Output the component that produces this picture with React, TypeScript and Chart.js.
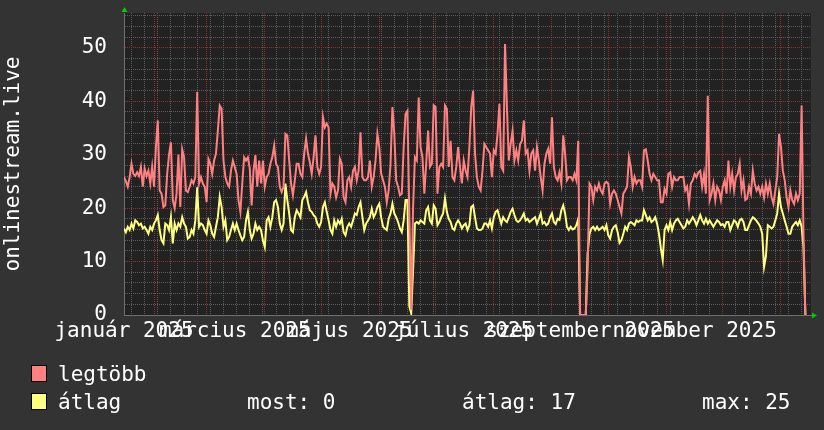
import React, { useEffect, useRef } from 'react';
import { Chart, registerables } from 'chart.js';

Chart.register(...registerables);

// Daily values starting 2025-01-16 (day 0)
const legtobb: number[] = [
  25.8, 25, 24, 25.8, 28.3, 26.4, 26, 26.7, 26, 27.7,
  24, 27.4, 26, 27, 24.6, 27.7, 24, 31.4, 36.4, 23.3,
  22.7, 20.2, 20.5, 26.4, 30, 32.3, 21.5, 20, 22.7, 30,
  20.2, 31, 29.5, 23.3, 23, 24, 25.2, 24.6, 25.8, 41.7,
  24.6, 25.8, 24.6, 24, 21.1, 29.2, 28.3, 26.4, 28.9, 30.2,
  34.5, 39.2, 38.6, 28.9, 25.8, 24.6, 24, 27, 28.9, 27.7,
  26.4, 21.5, 19.3, 24.6, 29.5, 28.9, 29.5, 27.4, 20.5, 27,
  29.9, 24, 28.9, 24.6, 28.9, 24, 25.8, 26.4, 28.3, 29.5,
  31.7, 28.3, 27.7, 24, 23, 24, 33.9, 33.6, 28.9, 24.6,
  22.4, 25.2, 28.3, 28.3, 26.4, 25.8, 30.2, 33, 30.2, 28.6,
  26.4, 29.5, 33.6, 27.7, 26.4, 27.7, 37, 35.1, 35.8, 35.1,
  22.7, 24.6, 24, 22, 23.3, 29.2, 28.3, 22, 21.1, 25.2,
  25.8, 24, 27, 27.7, 25.2, 27, 34.2, 25.8, 25.2, 25.2,
  25.8, 28.9, 24, 25.8, 28.9, 33.9, 31.4, 26.4, 25.2, 24,
  21.1, 23.3, 28.3, 38.9, 33.9, 25.2, 24, 22.4, 22.7, 31.4,
  37.6, 38.2, 19, 1, 20, 29.5, 28.9, 40.7, 31.4, 29.5,
  22.7, 28.3, 34.5, 27.7, 28.3, 39.2, 38.9, 22.7, 27.7, 28.3,
  27.7, 39.2, 38.6, 27.7, 32.6, 25.8, 25.2, 27.7, 31.4, 27.7,
  24.6, 28.9, 27, 25.8, 31.4, 38.9, 42, 30.2, 25.8, 24,
  23.3, 27, 32, 31.4, 30.8, 30.2, 25.8, 30.8, 30.2, 33.9,
  39.5, 27.7, 27, 50.7, 38.9, 28.9, 32, 34.5, 28.9, 30.8,
  28.9, 32, 32.6, 36.4, 30.2, 30.8, 27, 30.2, 30.8, 27,
  31.4, 28.9, 25.8, 23.3, 28.3, 30.2, 31.1, 28.3, 37, 27.7,
  25.8, 25.2, 26.7, 24.6, 33.6, 30.2, 25.2, 25.8, 25.8, 25.2,
  26.4, 25.2, 32.6, 0, 0, 0, 0, 8.7, 24.6, 24,
  21.5, 24, 23.3, 24.6, 23.3, 22.7, 24.6, 24.9, 24.6, 20.8,
  22.7, 23.3, 22.7, 21.5, 20.2, 19, 22.7, 23.3, 24, 29.5,
  27.7, 24, 25.8, 24.6, 25.2, 25.2, 24, 30.8, 31, 28.9,
  26.4, 25.2, 26.4, 25.8, 25.2, 25.2, 21.1, 21.1, 23.6, 22.7,
  26.4, 26.7, 24, 25.8, 25.2, 25.2, 25.8, 25.8, 25.8, 23.3,
  24, 20.8, 24.6, 25.2, 26.4, 25.8, 26.7, 27, 24, 26.4,
  22.7, 41, 21.5, 22.7, 24.6, 21.5, 24, 23.3, 21.5, 24,
  25.2, 22.7, 28.9, 24, 26.4, 23.3, 25.8, 26.4, 28.3, 23.3,
  25.2, 21.5, 21.8, 24, 22.7, 27, 24.6, 23.3, 24, 22.7,
  24, 22, 24.6, 22.7, 24.6, 22, 20.8, 23.3, 25.8, 33.9,
  31.4, 27, 25.2, 22, 20.2, 23.3, 21.5, 20.8, 22.7, 21.5,
  22.7, 39.2, 15, 0,
];

const atlag: number[] = [
  16.2, 15.5, 16.5, 15.9, 17.1, 16.2, 17.7, 17.4, 16.8, 17.1,
  16.2, 16.5, 15.9, 15.2, 16.5, 15.9, 17.1, 17.7, 18.7, 15.9,
  14, 13.4, 17.1, 16.8, 15.9, 18.3, 13.4, 17.1, 15.9, 17.1,
  16.5, 18.3, 17.1, 16.5, 14.3, 14.6, 15.9, 15.2, 17.7, 23.9,
  16.5, 17.1, 16.8, 15.9, 15.2, 17.7, 16.8, 15.2, 14.6, 16.5,
  18.3, 22.1, 20.2, 16.5, 17.7, 14, 14.6, 15.9, 17.1, 15.9,
  17.1, 15.9, 14.9, 14, 14.6, 17.7, 19.3, 15.9, 14.3, 15.2,
  17.1, 15.9, 16.5, 15.9, 14, 12.7, 17.7, 18.3, 16.5, 18.3,
  21.1, 21.5, 20.2, 17.1, 15.9, 17.1, 24.6, 21.5, 19, 15.9,
  15.5, 18.3, 19.6, 19, 18.3, 21.5, 22.1, 23, 21.1, 19.6,
  19.3, 18.7, 18.3, 17.1, 16.5, 17.4, 20.2, 21.1, 19.3, 17.7,
  15.9, 15.2, 17.7, 16.5, 17.7, 17.1, 18, 15.5, 14.9, 16.5,
  17.1, 16.5, 17.7, 19, 18.7, 20.2, 21.1, 18.3, 15.9, 17.1,
  17.7, 18.3, 19.9, 18.3, 19, 20.2, 20.8, 18.3, 16.5, 16.2,
  15.9, 18, 19, 20.8, 19, 18.3, 17.4, 16.2, 15.5, 17.7,
  21.5, 21.5, 1.6, 0.3, 8.4, 17.1, 17.4, 17.1, 17.7, 17.4,
  17.1, 19.6, 20.2, 17.7, 17.1, 20.5, 19.9, 16.8, 17.4, 18.3,
  19, 21.8, 19.3, 18, 17.4, 16.2, 15.9, 17.1, 17.7, 17.1,
  16.2, 16.8, 17.1, 15.9, 16.8, 20.2, 20.5, 18.3, 16.2, 15.9,
  15.9, 16.2, 17.1, 17.1, 16.5, 17.7, 16.2, 18.3, 19.3, 19.6,
  18.3, 17.1, 18.3, 17.7, 17.4, 18.3, 19.3, 19.9, 18.7, 17.7,
  17.4, 17.7, 18.3, 19, 17.7, 18, 17.4, 17.7, 18, 18.3,
  17.1, 18, 19, 17.1, 17.4, 16.8, 17.1, 18.3, 19, 17.4,
  17, 18, 17.8, 19.6, 20.5, 19, 16.5, 15.9, 16.5, 16,
  16.2, 16.8, 18, 0, 0, 0, 0, 11.5, 15.2, 16.2,
  16.5, 15.9, 16.5, 15.9, 16.2, 16.5, 15.9, 16.8, 14.9, 14.3,
  15.9, 16.5, 16.8, 15.5, 13.5, 14, 15.2, 16.5, 15.9, 17.1,
  17.4, 17.1, 16.8, 17.7, 17.4, 17.7, 17.7, 19.6, 18.7, 17.7,
  18.3, 17.4, 17.7, 18.3, 17.1, 15.2, 12.5, 10.3, 15.9, 16.8,
  15.9, 17.4, 15.9, 17.1, 17.7, 18, 17.4, 16.8, 16.2, 16.5,
  17.7, 17.1, 17.7, 18.3, 17.7, 16.8, 17.7, 18.7, 17.7, 17.1,
  18, 17.1, 17.7, 17.1, 16.5, 17.1, 17.7, 17.4, 16.8, 17,
  16.5, 17.4, 17.4, 15.9, 16.8, 17.7, 17.4, 16.5, 17.7, 18,
  17.4, 15.9, 15.9, 16.8, 17.7, 18.3, 18, 17.6, 17.1, 16.5,
  15.2, 9, 11, 16.8, 16.5, 16.2, 16.5, 17.7, 19, 22.7,
  20.2, 19, 17.7, 16.5, 15.2, 15.2, 16.5, 17, 17.4, 16.8,
  17.7, 16.5, 12.7, 0,
];

const monthLabels = ['január 2025', 'március 2025', 'május 2025', 'július 2025', 'szeptember 2025', 'november 2025'];
const labelMonths: [number, number][] = [[2025, 0], [2025, 2], [2025, 4], [2025, 6], [2025, 8], [2025, 10]];
const legendStats = { most: '0', atlag: '17', max: '25' };

const START = Date.UTC(2025, 0, 16);
const DAY = 86400000;
const X_MAX = 366;
const Y_MAX = 56.5;

const dayOf = (y: number, m: number, d: number) => (Date.UTC(y, m, d) - START) / DAY;

const FONT = "'DejaVu Sans Mono', monospace";
const RED = '#ff8080';
const YEL = '#ffff80';
const GRID_MINOR = '#5c5c5c';
const GRID_MAJOR = '#8c3030';

export default function App() {
  const ref = useRef<HTMLCanvasElement | null>(null);

  useEffect(() => {
    document.body.style.margin = '0';
    document.body.style.background = '#333333';
    const canvas = ref.current;
    if (!canvas) return;

    const monthStarts = new Set<number>();
    for (let i = 1; i <= 12; i++) {
      const dt = new Date(Date.UTC(2025, i, 1));
      const v = dayOf(dt.getUTCFullYear(), dt.getUTCMonth(), 1);
      if (v >= 0 && v <= X_MAX) monthStarts.add(v);
    }
    const mondays = new Set<number>();
    for (let v = 0; v <= X_MAX; v++) {
      const wd = new Date(START + v * DAY).getUTCDay();
      if (wd === 1 && !monthStarts.has(v)) mondays.add(v);
    }
    const labelMap = new Map<number, string>();
    labelMonths.forEach(([y, m], i) => labelMap.set(dayOf(y, m, 1) + 15, monthLabels[i]));
    const xTickValues = Array.from(new Set<number>([...monthStarts, ...mondays, ...labelMap.keys()])).sort((a, b) => a - b);
    const yTickValues: number[] = [];
    for (let v = 0; v <= Y_MAX; v += 2) yTickValues.push(v);

    const redData = legtobb.map((v, i) => ({ x: i, y: v }));
    const yelData = atlag.map((v, i) => ({ x: i, y: v }));

    const bgPlugin = {
      id: 'bgPlugin',
      beforeDraw(chart: any) {
        const { ctx, chartArea } = chart;
        ctx.save();
        ctx.fillStyle = '#333333';
        ctx.fillRect(0, 0, chart.width, chart.height);
        ctx.fillStyle = '#222222';
        ctx.fillRect(chartArea.left, chartArea.top, chartArea.right - chartArea.left, chartArea.bottom - chartArea.top);
        ctx.restore();
      },
      afterDraw(chart: any) {
        const { ctx, chartArea } = chart;
        ctx.save();
        ctx.fillStyle = '#00cc00';
        const l = chartArea.left + 0.5;
        const t = chartArea.top;
        ctx.beginPath();
        ctx.moveTo(l - 3, t - 1);
        ctx.lineTo(l + 3, t - 1);
        ctx.lineTo(l, t - 6);
        ctx.closePath();
        ctx.fill();
        const r = chartArea.right;
        const b = chartArea.bottom + 0.5;
        ctx.beginPath();
        ctx.moveTo(r + 1, b - 3);
        ctx.lineTo(r + 1, b + 3);
        ctx.lineTo(r + 6, b);
        ctx.closePath();
        ctx.fill();
        ctx.restore();
      },
    };

    const chart = new Chart(canvas, {
      type: 'line',
      data: {
        datasets: [
          {
            label: 'legtöbb',
            data: redData,
            borderColor: RED,
            backgroundColor: RED,
            borderWidth: 2,
            pointRadius: 0,
            tension: 0,
          },
          {
            label: 'átlag',
            data: yelData,
            borderColor: YEL,
            backgroundColor: YEL,
            borderWidth: 2,
            pointRadius: 0,
            tension: 0,
          },
        ],
      },
      options: {
        responsive: false,
        animation: false,
        devicePixelRatio: 1,
        layout: { padding: { top: 13, right: 13, left: 0, bottom: 75 } },
        plugins: { legend: { display: false }, tooltip: { enabled: false } },
        scales: {
          x: {
            type: 'linear',
            min: 0,
            max: X_MAX,
            afterBuildTicks: (scale: any) => {
              scale.ticks = xTickValues.map((v) => ({ value: v }));
            },
            afterFit: (scale: any) => {
              scale.height = 40;
              scale.paddingLeft = 0;
              scale.paddingRight = 0;
              scale.paddingTop = 0;
              scale.paddingBottom = 0;
            },
            ticks: {
              autoSkip: false,
              maxRotation: 0,
              minRotation: 0,
              padding: 4,
              color: '#ffffff',
              font: { family: FONT, size: 21 },
              callback: (v: any) => labelMap.get(Number(v)) ?? '',
            },
            grid: {
              drawTicks: false,
              lineWidth: 1,
              color: (ctx: any) => {
                const v = ctx.tick ? ctx.tick.value : -1;
                if (monthStarts.has(v)) return GRID_MAJOR;
                if (mondays.has(v)) return GRID_MINOR;
                return 'rgba(0,0,0,0)';
              },
            },
            border: { display: true, color: '#707070', width: 1, dash: [1, 1] },
          },
          y: {
            type: 'linear',
            min: 0,
            max: Y_MAX,
            afterBuildTicks: (scale: any) => {
              scale.ticks = yTickValues.map((v) => ({ value: v }));
            },
            afterFit: (scale: any) => {
              scale.width = 124;
              scale.paddingLeft = 0;
              scale.paddingRight = 0;
              scale.paddingTop = 0;
              scale.paddingBottom = 0;
            },
            ticks: {
              autoSkip: false,
              padding: 17,
              color: '#ffffff',
              font: { family: FONT, size: 21 },
              callback: (v: any) => (Number(v) % 10 === 0 ? String(v) : ''),
            },
            grid: {
              drawTicks: false,
              lineWidth: 1,
              color: (ctx: any) => {
                const v = ctx.tick ? ctx.tick.value : -1;
                return v % 10 === 0 ? GRID_MAJOR : GRID_MINOR;
              },
            },
            border: { display: true, color: '#707070', width: 1, dash: [1, 1] },
            title: {
              display: true,
              text: 'onlinestream.live',
              color: '#ffffff',
              font: { family: FONT, size: 21, lineHeight: 1 },
              padding: { top: 3, bottom: 0 },
            },
          },
        },
      },
      plugins: [bgPlugin],
    } as any);

    return () => chart.destroy();
  }, []);

  const textStyle: React.CSSProperties = {
    position: 'absolute',
    fontFamily: FONT,
    fontSize: 21,
    lineHeight: '21px',
    color: '#ffffff',
    whiteSpace: 'pre',
  };
  const sq = (top: number, color: string): React.CSSProperties => ({
    position: 'absolute',
    left: 31,
    top,
    width: 16,
    height: 17,
    boxSizing: 'border-box',
    border: '1px solid #000',
    background: color,
  });

  return (
    <div style={{ position: 'relative', width: 824, height: 430, background: '#333333', overflow: 'hidden' }}>
      <canvas ref={ref} width={824} height={430} style={{ display: 'block', width: 824, height: 430 }} />
      <div style={sq(365, RED)} />
      <div style={{ ...textStyle, left: 58, top: 364 }}>legtöbb</div>
      <div style={sq(393, YEL)} />
      <div style={{ ...textStyle, left: 58, top: 392 }}>átlag</div>
      <div style={{ ...textStyle, left: 247, top: 392 }}>{`most: ${legendStats.most}`}</div>
      <div style={{ ...textStyle, left: 462, top: 392 }}>{`átlag: ${legendStats.atlag}`}</div>
      <div style={{ ...textStyle, left: 702, top: 392 }}>{`max: ${legendStats.max}`}</div>
    </div>
  );
}
